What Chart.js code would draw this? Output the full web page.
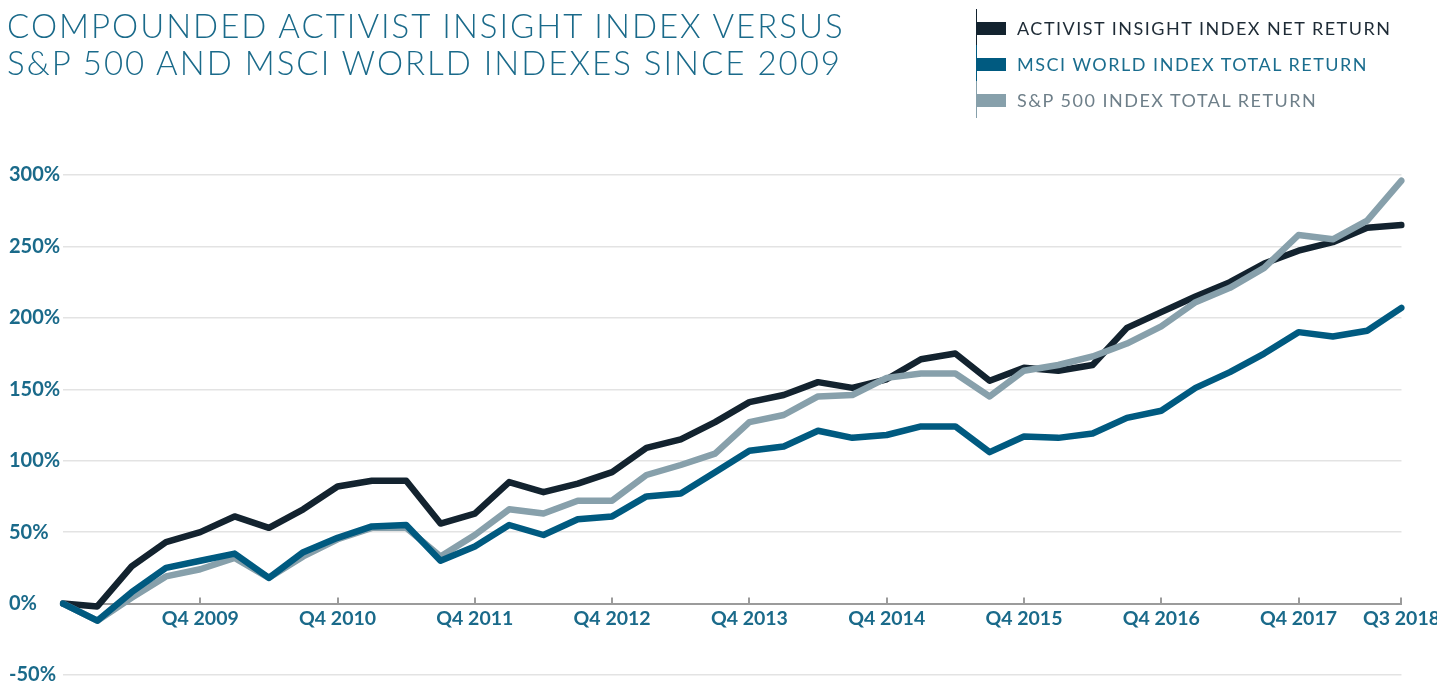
<!DOCTYPE html>
<html>
<head>
<meta charset="utf-8">
<script src="https://cdn.jsdelivr.net/npm/chart.js@4.4.1/dist/chart.umd.min.js"></script>
<style>
  html, body { margin: 0; padding: 0; background: #fff; overflow: hidden; width: 1437px; height: 682px; }
  #chart { position: absolute; left: 0; top: 0; }
  .title { position: absolute; left: 7px; top: 7px; font: 300 33px Lato, sans-serif; letter-spacing: 2px; line-height: 37px; color: #1a6a8a; white-space: nowrap; }
  .legend { position: absolute; left: 976px; top: 10px; }
  .legend .row { position: relative; height: 36px; width: 440px; }
  .legend .bar { position: absolute; left: 0; top: -1px; width: 1px; height: 37px; }
  .legend .sw { position: absolute; left: 0; top: 12px; width: 30px; height: 13px; }
  .legend .lbl { position: absolute; left: 41px; top: 6px; font: 400 18px Lato, sans-serif; letter-spacing: 1.5px; line-height: 24px; white-space: nowrap; }
</style>
</head>
<body>
<canvas id="chart" width="1443" height="692"></canvas>
<div class="title">COMPOUNDED ACTIVIST INSIGHT INDEX VERSUS<br>S&amp;P 500 AND MSCI WORLD INDEXES SINCE 2009</div>
<div class="legend" id="legend"></div>
<script>
/* Compounded quarterly returns, Q4 2008 = 0%. */
var quarters = [
  'Q4 2008',
  'Q1 2009', 'Q2 2009', 'Q3 2009', 'Q4 2009',
  'Q1 2010', 'Q2 2010', 'Q3 2010', 'Q4 2010',
  'Q1 2011', 'Q2 2011', 'Q3 2011', 'Q4 2011',
  'Q1 2012', 'Q2 2012', 'Q3 2012', 'Q4 2012',
  'Q1 2013', 'Q2 2013', 'Q3 2013', 'Q4 2013',
  'Q1 2014', 'Q2 2014', 'Q3 2014', 'Q4 2014',
  'Q1 2015', 'Q2 2015', 'Q3 2015', 'Q4 2015',
  'Q1 2016', 'Q2 2016', 'Q3 2016', 'Q4 2016',
  'Q1 2017', 'Q2 2017', 'Q3 2017', 'Q4 2017',
  'Q1 2018', 'Q2 2018', 'Q3 2018'
];
var activist = [0, -2, 26, 43, 50, 61, 53, 66, 82, 86, 86, 56, 63, 85, 78, 84, 92, 109, 115, 127,
                141, 146, 155, 151, 157, 171, 175, 156, 165, 163, 167, 193, 204, 215, 225, 238, 247, 253, 263, 265];
var msci = [0, -12, 8, 25, 30, 35, 18, 36, 46, 54, 55, 30, 40, 55, 48, 59, 61, 75, 77, 92,
            107, 110, 121, 116, 118, 124, 124, 106, 117, 116, 119, 130, 135, 151, 162, 175, 190, 187, 191, 207];
var sp500 = [0, -12, 4, 19, 24, 32, 18, 33, 45, 53, 53, 33, 48, 66, 63, 72, 72, 90, 97, 105,
             127, 132, 145, 146, 158, 161, 161, 145, 163, 167, 173, 182, 194, 211, 221, 235, 258, 255, 268, 296];
var yTicks = [-50, 0, 50, 100, 150, 200, 250, 300];

var series = [
  { name: 'ACTIVIST INSIGHT INDEX NET RETURN', data: activist, line: '#13232f', text: '#1e2b36' },
  { name: 'MSCI WORLD INDEX TOTAL RETURN',     data: msci,     line: '#005a80', text: '#1a6d8e' },
  { name: 'S&P 500 INDEX TOTAL RETURN',        data: sp500,    line: '#87a0ab', text: '#6e7f89' }
];

// legend (HTML, matches the printed layout)
var legendBox = document.getElementById('legend');
series.forEach(function (s) {
  var row = document.createElement('div');
  row.className = 'row';
  row.innerHTML = '<div class="bar" style="background:' + s.line + '"></div>' +
    '<div class="sw" style="background:' + s.line + '"></div>' +
    '<div class="lbl" style="color:' + s.text + '"></div>';
  row.querySelector('.lbl').textContent = s.name;
  legendBox.appendChild(row);
});

function isShown(i) {
  return quarters[i].indexOf('Q4') === 0 && i > 0 || i === quarters.length - 1;
}

// small tick marks pointing up from the zero line
var upTicks = {
  id: 'upTicks',
  beforeDatasetsDraw: function (chart) {
    var x = chart.scales.x, y = chart.scales.y;
    var y0 = y.getPixelForValue(0);
    var ctx = chart.ctx;
    ctx.save();
    ctx.strokeStyle = '#9b9b9b';
    ctx.lineWidth = 2;
    quarters.forEach(function (q, i) {
      if (!isShown(i)) return;
      var px = Math.round(x.getPixelForValue(i));
      ctx.beginPath();
      ctx.moveTo(px, y0);
      ctx.lineTo(px, y0 - 6);
      ctx.stroke();
    });
    ctx.restore();
  }
};

// datasets listed top-most first: Chart.js paints index 0 last
var order = [1, 2, 0];
var datasets = order.map(function (k) {
  var s = series[k];
  return {
    label: s.name, data: s.data,
    borderColor: s.line, backgroundColor: s.line,
    borderWidth: 6.5, pointRadius: 0, tension: 0,
    borderCapStyle: 'round', borderJoinStyle: 'round', fill: false
  };
});

var yFont = { family: 'Lato', size: 20, weight: 'bold' };
var xFont = { family: 'Lato', size: 19.5, weight: 'bold' };

new Chart(document.getElementById('chart').getContext('2d'), {
  type: 'line',
  data: { labels: quarters, datasets: datasets },
  plugins: [upTicks],
  options: {
    responsive: false, animation: false,
    layout: { padding: { left: 9, right: 38, top: 175, bottom: 17 } },
    plugins: { legend: { display: false }, tooltip: { enabled: false } },
    scales: {
      x: {
        type: 'category', position: { y: 0 }, offset: false,
        grid: { display: false, drawTicks: false },
        border: { display: true, color: '#9b9b9b', width: 2 },
        ticks: {
          autoSkip: false, maxRotation: 0, padding: 3, color: '#1a6a8a', font: xFont,
          callback: function (v, i) { return isShown(i) ? quarters[i] : null; }
        }
      },
      y: {
        min: yTicks[0], max: yTicks[yTicks.length - 1],
        afterBuildTicks: function (s) { s.ticks = yTicks.map(function (v) { return { value: v }; }); },
        afterFit: function (s) { s.width = 54; },
        grid: { color: '#e3e3e3', lineWidth: 1.5, drawTicks: false },
        border: { display: false },
        ticks: {
          color: '#1a6a8a', font: yFont, crossAlign: 'far', padding: 0,
          callback: function (v) { return v + '%'; }
        }
      }
    }
  }
});
</script>
</body>
</html>
